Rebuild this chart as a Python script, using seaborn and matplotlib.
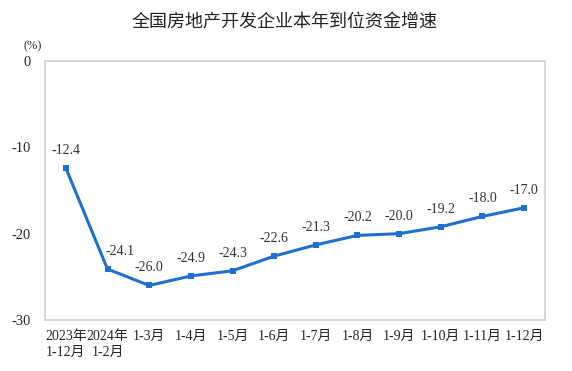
import matplotlib
matplotlib.use("Agg")
import matplotlib.pyplot as plt
import seaborn as sns
import pandas as pd
import numpy as np

categories = ["2023年\n1-12月", "2024年\n1-2月", "1-3月", "1-4月", "1-5月", "1-6月",
              "1-7月", "1-8月", "1-9月", "1-10月", "1-11月", "1-12月"]
values = [-12.4, -24.1, -26.0, -24.9, -24.3, -22.6, -21.3, -20.2, -20.0, -19.2, -18.0, -17.0]
yticks = [0, -10, -20, -30]
title = "全国房地产开发企业本年到位资金增速"

sns.set_theme(style="white")
fam = ["Liberation Serif", "Noto Sans CJK SC", "DejaVu Sans"]
plt.rcParams["font.family"] = fam

df = pd.DataFrame({"idx": np.arange(len(categories)), "val": values})

fig = plt.figure(figsize=(5.72, 3.71), dpi=100)
ax = fig.add_axes([45/572, 1-320/371, 500/572, (320-61)/371])
color = "#1F6FCF"
sns.lineplot(data=df, x="idx", y="val", ax=ax, color=color, linewidth=2.2,
             marker="s", markersize=5, markeredgewidth=0)

ax.set_xlim(-0.5, len(categories)-0.5)
ax.set_ylim(-30, 0)
ax.set_yticks(yticks)
ax.set_yticklabels([str(t) for t in yticks], fontsize=10.5, fontfamily=fam)
ax.set_xticks(np.arange(len(categories)))
ax.set_xticklabels(categories, fontsize=10, fontfamily=fam, linespacing=1.3)
ax.set_xticks(np.arange(0.5, len(categories)-1, 1), minor=True)
ax.set_yticks([-10, -20], minor=True)
ax.tick_params(axis="x", which="major", length=0, pad=7)
ax.tick_params(axis="x", which="minor", direction="in", length=5, color="#C8C8C8", width=1)
ax.tick_params(axis="y", which="major", length=0, pad=10)
ax.tick_params(axis="y", which="minor", direction="in", length=3, color="#C8C8C8", width=1, left=True)
ax.set_xlabel("")
ax.set_ylabel("")
for s in ax.spines.values():
    s.set_color("#D0D0D0")
    s.set_linewidth(1.2)

offsets = {1: (9, 8)}
for i, v in enumerate(values):
    dx, dy = offsets.get(i, (0, 8))
    ax.annotate(f"{v:.1f}", (i, v), xytext=(dx, dy), textcoords="offset points",
                ha="center", va="bottom", fontsize=10, fontfamily=fam, color="#333333")

fig.text(285/572, 1-22/371, title, ha="center", va="center", fontsize=13,
         fontfamily=["Noto Sans CJK SC", "DejaVu Sans"], color="#222222")
fig.text(33/572, 1-46/371, "(%)", ha="center", va="center", fontsize=9, fontfamily=fam, color="#333333")

fig.savefig("out.png", dpi=100)
